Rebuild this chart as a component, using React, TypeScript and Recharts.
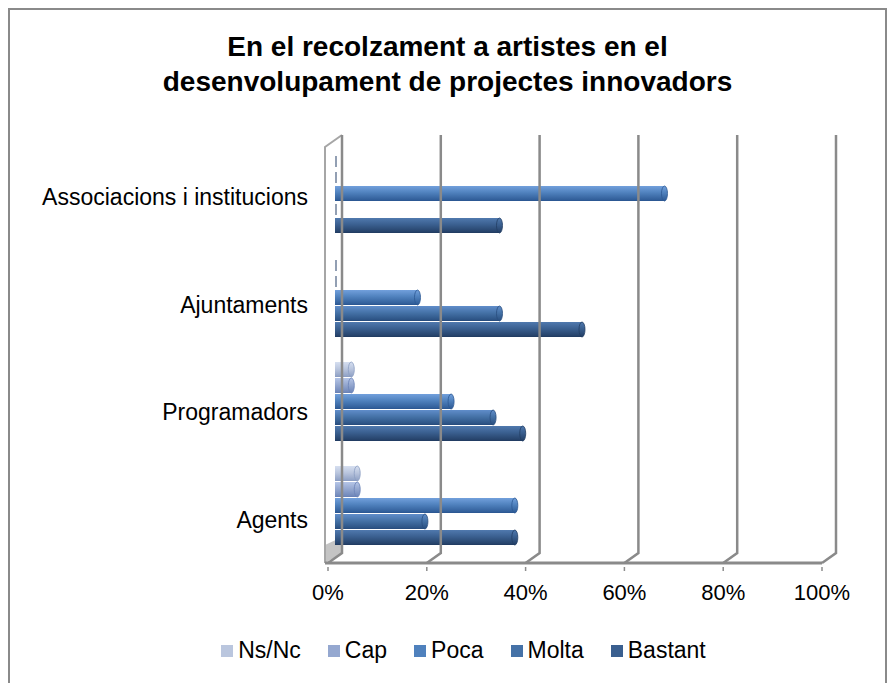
import React from 'react';
import { BarChart, Bar, XAxis, YAxis, Legend, ReferenceLine, ReferenceArea } from 'recharts';

// categories, top to bottom
const categories = ['Associacions i institucions', 'Ajuntaments', 'Programadors', 'Agents'];

// percentages per series
const nsnc = [0, 0, 3.3, 4.5];
const cap = [0, 0, 3.3, 4.5];
const poca = [66.7, 16.7, 23.5, 36.4];
const molta = [0, 33.3, 32, 18.2];
const bastant = [33.3, 50, 38, 36.4];

const xTicks = [0, 20, 40, 60, 80, 100];

const seriesNames = ['Ns/Nc', 'Cap', 'Poca', 'Molta', 'Bastant'];

const data = categories.map((c, i) => ({
  cat: c,
  nsnc: nsnc[i],
  cap: cap[i],
  poca: poca[i],
  molta: molta[i],
  bastant: bastant[i],
}));

const FONT = '"Liberation Sans", Arial, sans-serif';

const SERIES = [
  { key: 'nsnc', name: seriesNames[0], color: '#bac6de', light: '#d6dff0', dark: '#8c9ec3' },
  { key: 'cap', name: seriesNames[1], color: '#95a8d0', light: '#b5c5e7', dark: '#6b83b7' },
  { key: 'poca', name: seriesNames[2], color: '#4f81bd', light: '#72a0dc', dark: '#2c5893' },
  { key: 'molta', name: seriesNames[3], color: '#4572a7', light: '#608dca', dark: '#284d7e' },
  { key: 'bastant', name: seriesNames[4], color: '#3a5f8f', light: '#5079ae', dark: '#223d63' },
];

const GRID = '#8a8a8a';

function Bar3D(props: any) {
  const { x, y, width, height, gid, edge } = props;
  if (!width || width <= 0) return null;
  if (width < 3) {
    // empty series: only the end face of the 3D bar shows
    return <rect x={x} y={y + 2} width={2} height={height - 4} fill="#4a5f80" opacity={0.6} />;
  }
  const r = height / 2;
  return (
    <g>
      <rect x={x} y={y} width={width} height={height} fill={`url(#${gid})`} />
      <line x1={x} y1={y + height - 0.5} x2={x + width} y2={y + height - 0.5} stroke={edge} strokeWidth={1} />
      <ellipse cx={x + width} cy={y + r} rx={3} ry={r} fill={`url(#${gid})`} stroke={edge} strokeWidth={0.8} />
    </g>
  );
}

// 3D grid line: back wall line dropping onto the floor, then slanting to the front edge
function GridLine3D(props: any) {
  const { x1, y1, y2 } = props;
  const top = Math.min(y1, y2);
  const bottom = Math.max(y1, y2);
  return (
    <path
      d={`M${x1 + 7},${top - 6} V${bottom - 4} L${x1 - 7},${bottom + 6}`}
      fill="none"
      stroke={GRID}
      strokeWidth={2.5}
    />
  );
}

// side wall + front edge of the floor
function Frame3D(props: any) {
  const { x, y, width, height } = props;
  const bottom = y + height;
  return (
    <g>
      <polygon
        points={`${x - 10},${bottom - 12} ${x + 7},${bottom - 20} ${x + 7},${bottom - 4} ${x - 10},${bottom + 6}`}
        fill="#c4c4c4"
      />
      <path d={`M${x - 10},${bottom + 6} V${y + 6} L${x + 7},${y - 6}`} fill="none" stroke="#a6a6a6" strokeWidth={2} />
      <line x1={x - 10} y1={bottom + 6} x2={x + width - 7} y2={bottom + 6} stroke={GRID} strokeWidth={3} />
    </g>
  );
}

function XTick(props: any) {
  const { x, y, payload } = props;
  const fx = x - 7;
  return (
    <g>
      <line x1={fx} y1={y + 10} x2={fx} y2={y + 14} stroke="#8c8c8c" strokeWidth={1.5} />
      <text x={fx} y={y + 35} dy="0.35em" textAnchor="middle" fontSize={22} fontFamily={FONT} fill="#000">
        {payload.value}%
      </text>
    </g>
  );
}

function YTick(props: any) {
  const { x, y, payload, index } = props;
  return (
    <text x={x - 27} y={y + 4 + index * 3.5} dy="0.35em" textAnchor="end" fontSize={23} fontFamily={FONT} fill="#000">
      {payload.value}
    </text>
  );
}

function LegendContent(props: any) {
  const { payload } = props;
  const items = [...(payload || [])].sort(
    (a: any, b: any) => seriesNames.indexOf(a.value) - seriesNames.indexOf(b.value)
  );
  return (
    <div
      style={{
        display: 'flex',
        justifyContent: 'center',
        gap: 27,
        paddingLeft: 32,
        fontFamily: FONT,
        fontSize: 23,
        color: '#000',
      }}
    >
      {items.map((e: any) => (
        <div key={e.value} style={{ display: 'flex', alignItems: 'center' }}>
          <span style={{ width: 12, height: 12, background: e.color, marginRight: 5, display: 'inline-block' }} />
          <span>{e.value}</span>
        </div>
      ))}
    </div>
  );
}

export default function App() {
  return (
    <div>
      <div
        style={{
          position: 'absolute',
          left: 8,
          top: 8,
          width: 879,
          height: 675,
          border: '2px solid #8a8a8a',
          borderBottom: 'none',
          boxSizing: 'border-box',
        }}
      />
      <div style={{ position: 'absolute', left: 0, top: 0, width: 895, height: 683 }}>
        <div
          style={{
            position: 'absolute',
            left: 0,
            top: 29,
            width: 895,
            textAlign: 'center',
            fontFamily: FONT,
            fontWeight: 'bold',
            fontSize: 28,
            lineHeight: '35px',
            color: '#000',
          }}
        >
          <div>En el recolzament a artistes en el</div>
          <div>desenvolupament de projectes innovadors</div>
        </div>
        <BarChart
          width={895}
          height={683}
          data={data}
          layout="vertical"
          margin={{ top: 141, right: 66, bottom: 76, left: 0 }}
          barSize={15}
          barGap={1}
        >
          <defs>
            {SERIES.map((s) => (
              <linearGradient key={s.key} id={`g-${s.key}`} x1="0" y1="0" x2="0" y2="1">
                <stop offset="0%" stopColor={s.light} />
                <stop offset="45%" stopColor={s.color} />
                <stop offset="100%" stopColor={s.dark} />
              </linearGradient>
            ))}
          </defs>
          <XAxis
            type="number"
            domain={[0, 100]}
            ticks={xTicks}
            axisLine={false}
            tickLine={false}
            tickSize={0}
            tickMargin={0}
            height={50}
            tick={<XTick />}
          />
          <YAxis
            type="category"
            dataKey="cat"
            width={335}
            axisLine={false}
            tickLine={false}
            tickSize={0}
            tickMargin={0}
            tick={<YTick />}
            interval={0}
          />
          <ReferenceArea x1={0} x2={100} fill="none" shape={(p: any) => <Frame3D {...p} />} />
          {xTicks.map((t) => (
            <ReferenceLine key={t} x={t} shape={(p: any) => <GridLine3D {...p} />} />
          ))}
          {SERIES.map((s) => (
            <Bar
              key={s.key}
              dataKey={s.key}
              name={s.name}
              fill={s.color}
              minPointSize={2}
              isAnimationActive={false}
              shape={(p: any) => <Bar3D {...p} gid={`g-${s.key}`} edge={s.dark} />}
            />
          ))}
          <Legend
            verticalAlign="middle"
            align="center"
            layout="horizontal"
            wrapperStyle={{ top: 637, left: 0, width: 895 }}
            content={<LegendContent />}
          />
        </BarChart>
      </div>
    </div>
  );
}
